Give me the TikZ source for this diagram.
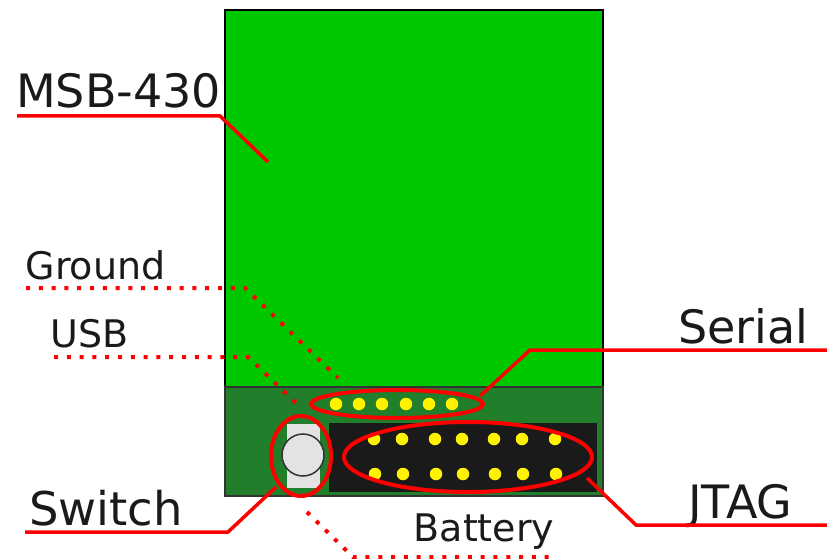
\documentclass[tikz,border=0pt]{standalone}
\usepackage{fontspec}
\setmainfont{DejaVu Sans}
\usetikzlibrary{shapes.geometric}
\definecolor{boardgreen}{HTML}{00C800}
\definecolor{basegreen}{HTML}{217E2B}
\definecolor{headerblack}{HTML}{1A1A1A}
\definecolor{buttongrey}{HTML}{E3E3E3}
\definecolor{labelgrey}{HTML}{1A1A1A}
\begin{document}
\begin{tikzpicture}[x=1pt,y=-1pt,
        pin/.style={circle,fill=yellow,minimum size=12.5pt,inner sep=0pt},
        ring/.style={ellipse,draw=red,line width=4pt,inner sep=0pt},
        wire/.style={draw=red,line width=3.5pt},
        dotwire/.style={draw=red,line width=4pt,dash pattern=on 4pt off 8.8pt},
        biglabel/.style={anchor=base west,inner sep=0pt,text=labelgrey,font=\fontsize{46}{46}\selectfont},
        smalllabel/.style={anchor=base west,inner sep=0pt,text=labelgrey,font=\fontsize{38}{38}\selectfont}]
\useasboundingbox (0,0) rectangle (827,559);

\draw[black,line width=2.5pt,fill=boardgreen] (225,10) rectangle (603,387);
\draw[black!80,line width=2.5pt,fill=basegreen] (225,387) rectangle (603,496);
\fill[headerblack] (329,423) rectangle (597,492);

\node[draw=none,fill=buttongrey,minimum width=33pt,minimum height=64pt,inner sep=0pt] (swbody) at (303.5,456) {};
\node[circle,draw=black!80,line width=1.5pt,fill=buttongrey,minimum size=42pt,inner sep=0pt] (swbutton) at (303,455) {};

\foreach \i/\x in {1/336,2/359,3/382,4/406,5/429,6/452}
    \node[pin] (serial\i) at (\x,404) {};
\foreach \i/\x in {1/374,2/402,3/435,4/462,5/494,6/522,7/555} {
    \node[pin] (jtagtop\i) at (\x,439) {};
    \node[pin] (jtagbot\i) at (\x+1,474) {};
}

\node[ring,minimum width=172pt,minimum height=28pt] (serialring) at (397,404) {};
\node[ring,minimum width=248pt,minimum height=70pt] (jtagring) at (468,457) {};
\node[ring,minimum width=60pt,minimum height=80pt] (switchring) at (301,456) {};

\node[biglabel] (msblabel) at (16,107.5) {MSB-430};
\node[biglabel] (seriallabel) at (678,343.5) {Serial};
\node[biglabel,font=\fontsize{46.5}{46}\selectfont] (switchlabel) at (29,525) {Switch};
\node[biglabel] (jtaglabel) at (688,518.5) {JTAG};
\node[smalllabel] (groundlabel) at (25.5,279) {Ground};
\node[smalllabel] (usblabel) at (50,347) {USB};
\node[smalllabel] (batterylabel) at (413.5,541) {Battery};

\coordinate (msbstart) at (17,116);
\coordinate (msbbend) at (220,116);
\coordinate (msbend) at (268,162);
\coordinate (serialstart) at (827,350);
\coordinate (serialbend) at (530,350);
\coordinate (serialend) at (480,396);
\coordinate (switchstart) at (25,532);
\coordinate (switchbend) at (228,532);
\coordinate (switchend) at (276,487);
\coordinate (jtagstart) at (827,525);
\coordinate (jtagbend) at (636,525);
\coordinate (jtagend) at (587,478);
\coordinate (groundstart) at (26,288);
\coordinate (groundbend) at (245,288);
\coordinate (groundend) at (338,378);
\coordinate (usbstart) at (54,357);
\coordinate (usbbend) at (248,357);
\coordinate (usbend) at (296,403);
\coordinate (batterystart) at (307,512);
\coordinate (batterybend) at (353,557);
\coordinate (batteryend) at (556,557);

\draw[wire] (msbstart) -- (msbbend) -- (msbend);
\draw[wire] (serialstart) -- (serialbend) -- (serialend);
\draw[wire] (switchstart) -- (switchbend) -- (switchend);
\draw[wire] (jtagstart) -- (jtagbend) -- (jtagend);
\draw[dotwire] (groundstart) -- (groundbend) -- (groundend);
\draw[dotwire] (usbstart) -- (usbbend) -- (usbend);
\draw[dotwire] (batterystart) -- (batterybend) -- (batteryend);
\end{tikzpicture}
\end{document}
